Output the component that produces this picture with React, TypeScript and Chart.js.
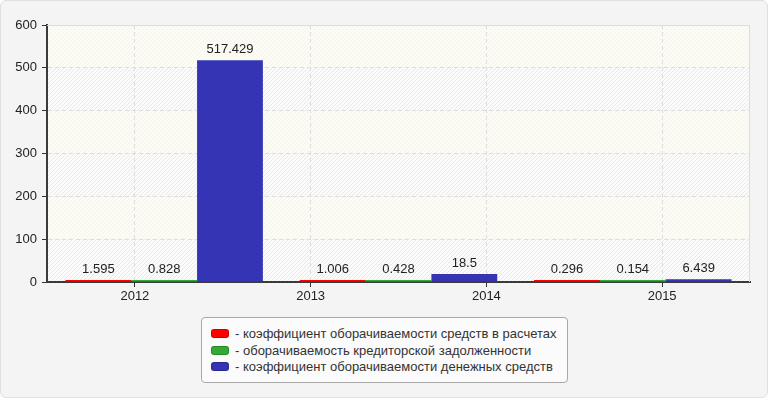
import React, { useEffect, useRef } from 'react'
import { Chart, registerables } from 'chart.js'

Chart.register(...registerables)

const FONT = "'Liberation Sans', Arial, sans-serif"

// tick labels of the visible x axis
const years = ['2012', '2013', '2014', '2015']
// the bars come in three groups, spread over the four year ticks
const barGroups = ['1', '2', '3']

const seriesNames = [
    'коэффициент оборачиваемости средств в расчетах',
    'оборачиваемость кредиторской задолженности',
    'коэффициент оборачиваемости денежных средств',
]
const settlementTurnover = [1.595, 1.006, 0.296]
const payablesTurnover = [0.828, 0.428, 0.154]
const cashTurnover = [517.429, 18.5, 6.439]
const seriesColors = ['#ff0000', '#33aa33', '#3434b4']

const yMin = 0
const yMax = 600
const yStep = 100

const plotBackground = {
    id: 'plotBackground',
    beforeDraw(chart: any) {
        const { ctx, chartArea: a, scales } = chart
        const y = scales.y
        const ticks = y.ticks
        ctx.save()
        for (let i = 0; i < ticks.length - 1; i++) {
            const bottom = y.getPixelForValue(ticks[i].value)
            const top = y.getPixelForValue(ticks[i + 1].value)
            const striped = i % 2 === 0
            ctx.save()
            ctx.beginPath()
            ctx.rect(a.left, top, a.width, bottom - top)
            ctx.clip()
            ctx.fillStyle = striped ? '#fbfbfb' : '#fcfcf5'
            ctx.fillRect(a.left, top, a.width, bottom - top)
            ctx.strokeStyle = striped ? 'rgba(0,0,0,0.07)' : 'rgba(0,0,0,0.03)'
            ctx.lineWidth = 1
            ctx.beginPath()
            for (let x = a.left - a.height; x < a.right; x += 4) {
                ctx.moveTo(x, a.bottom)
                ctx.lineTo(x + a.height, a.top)
            }
            ctx.stroke()
            ctx.restore()
        }
        ctx.restore()
    },
    afterDraw(chart: any) {
        const { ctx, chartArea: a } = chart
        ctx.save()
        ctx.strokeStyle = '#dcdcdc'
        ctx.lineWidth = 1
        ctx.beginPath()
        ctx.moveTo(a.left, Math.round(a.top) + 0.5)
        ctx.lineTo(Math.round(a.right) - 0.5, Math.round(a.top) + 0.5)
        ctx.lineTo(Math.round(a.right) - 0.5, a.bottom)
        ctx.stroke()
        ctx.restore()
    },
}

const valueLabels = {
    id: 'valueLabels',
    afterDatasetsDraw(chart: any) {
        const { ctx } = chart
        ctx.save()
        ctx.font = `13px ${FONT}`
        ctx.fillStyle = '#222'
        ctx.textAlign = 'center'
        ctx.textBaseline = 'alphabetic'
        chart.data.datasets.forEach((ds: any, di: number) => {
            const meta = chart.getDatasetMeta(di)
            meta.data.forEach((el: any, i: number) => {
                ctx.fillText(String(ds.data[i]), el.x, el.y - 7)
            })
        })
        ctx.restore()
    },
}

const App: React.FunctionComponent = () => {

    const chartRef = useRef<HTMLCanvasElement>(null)

    useEffect(() => {
        const chartCtx = chartRef.current!.getContext('2d') as CanvasRenderingContext2D

        const series = [settlementTurnover, payablesTurnover, cashTurnover]

        const chart = new Chart(chartCtx, {
            type: 'bar',
            data: {
                labels: barGroups,
                datasets: series.map((values, i) => ({
                    label: seriesNames[i],
                    data: values,
                    backgroundColor: seriesColors[i],
                    xAxisID: 'xb',
                    categoryPercentage: 0.8425,
                    barPercentage: 1,
                    minBarLength: 2,
                })),
            },
            options: {
                animation: false,
                responsive: false,
                layout: { padding: { left: 0, top: 25, right: 20, bottom: 8 } },
                plugins: {
                    legend: { display: false },
                    tooltip: { enabled: false },
                },
                scales: {
                    xb: {
                        type: 'category',
                        labels: barGroups,
                        display: false,
                        offset: true,
                    },
                    x: {
                        type: 'category',
                        labels: years,
                        position: 'bottom',
                        offset: true,
                        grid: {
                            offset: false,
                            color: '#dddddd',
                            tickColor: '#333',
                            tickLength: 5,
                            tickWidth: 1,
                        },
                        border: { color: '#3a3a3a', width: 2, dash: [4, 3] },
                        ticks: {
                            color: '#222',
                            font: { family: FONT, size: 13 },
                            padding: 2,
                            maxRotation: 0,
                        },
                        afterFit: (s: any) => { s.height = 20 },
                    },
                    y: {
                        min: yMin,
                        max: yMax,
                        grid: {
                            color: '#dddddd',
                            tickColor: '#333',
                            tickLength: 5,
                            tickWidth: 1,
                        },
                        border: { color: '#3a3a3a', width: 2, dash: [4, 3] },
                        ticks: {
                            stepSize: yStep,
                            color: '#222',
                            font: { family: FONT, size: 13 },
                            padding: 5,
                        },
                        afterFit: (s: any) => { s.width = 47 },
                    },
                },
            } as any,
            plugins: [plotBackground, valueLabels],
        })

        return () => {
            chart.destroy()
        }
    }, [])

    return (
        <div style={{ position: 'fixed', left: 0, top: 0, width: 770, height: 400, background: '#fff', fontFamily: FONT }}>
            <div style={{
                position: 'absolute', left: 0, top: 0, width: 768, height: 398, boxSizing: 'border-box',
                background: '#f4f4f4', border: '1px solid #e0e0e0', borderRadius: 6,
            }} />
            <canvas ref={chartRef} width={770} height={310} style={{ position: 'absolute', left: 0, top: 0 }}></canvas>
            <div style={{
                position: 'absolute', left: 201, top: 317, width: 367, height: 66, boxSizing: 'border-box',
                background: '#fbfbfb', border: '1px solid #a8a8a8', borderRadius: 4, padding: '7px 0 0 9px',
            }}>
                {seriesNames.map((name, i) => (
                    <div key={name} style={{ display: 'flex', alignItems: 'center', height: 16.7, fontSize: 13, color: '#333', whiteSpace: 'nowrap' }}>
                        <span style={{
                            display: 'inline-block', width: 18, height: 9, borderRadius: 3, background: seriesColors[i],
                            border: '1px solid rgba(0,0,0,0.2)', marginRight: 6, boxSizing: 'border-box',
                        }} />
                        <span>- {name}</span>
                    </div>
                ))}
            </div>
        </div>
    )
}

export default App
